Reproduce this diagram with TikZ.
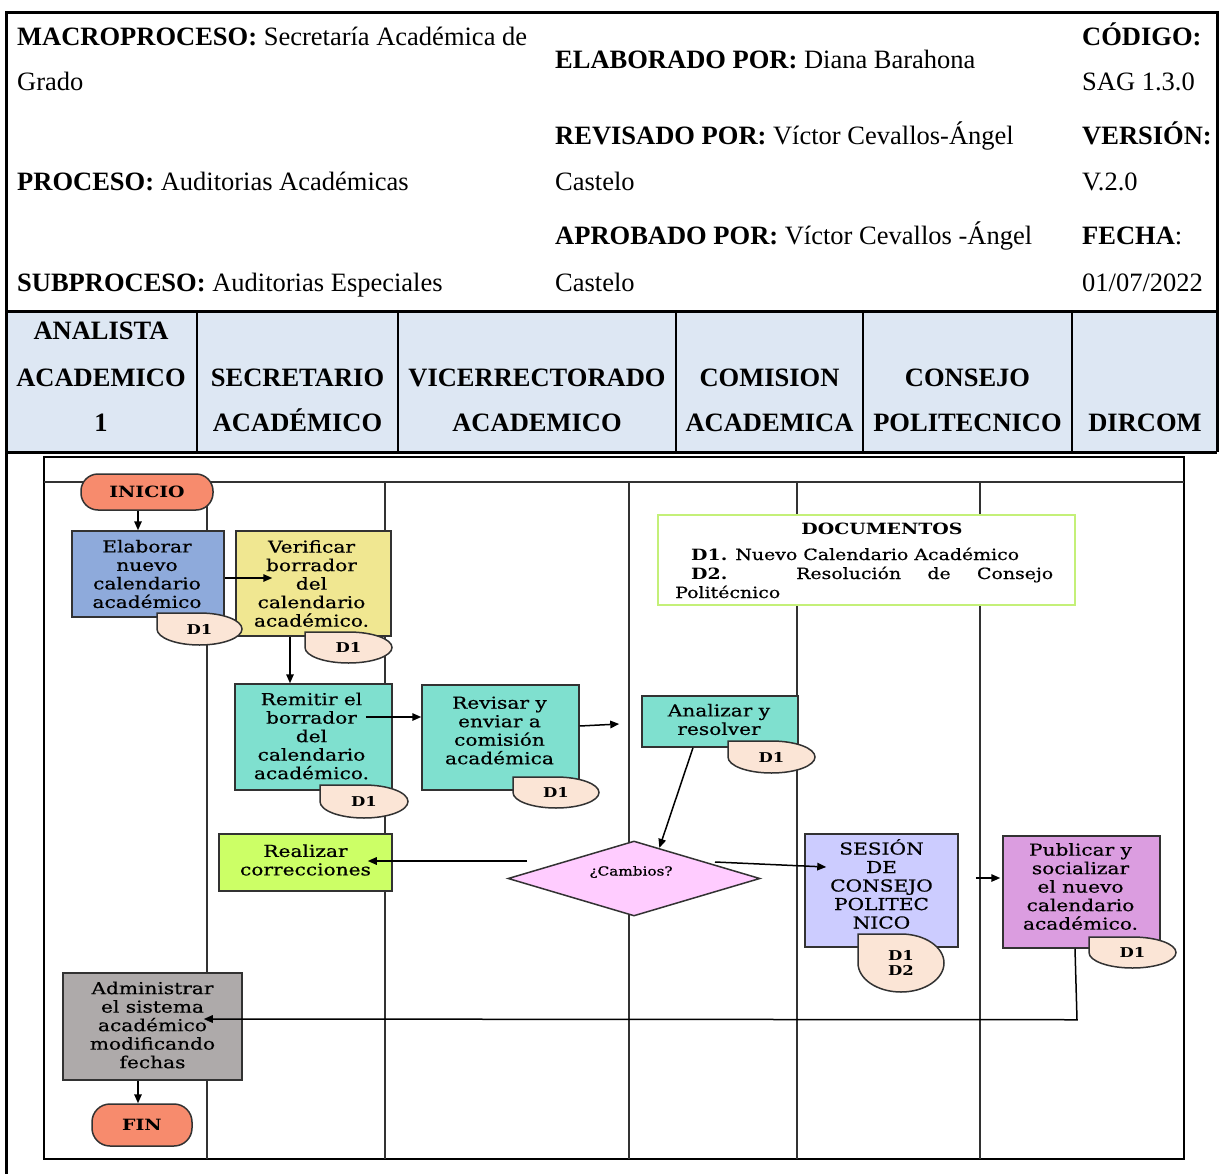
\documentclass[tikz,border=0pt]{standalone}
\usepackage{fontspec}
\setmainfont{Liberation Serif}
\newfontfamily\flowfont[FakeStretch=1.22,FakeBold=0.6]{DejaVu Serif}
\newfontfamily\flowbold[FakeStretch=1.22]{DejaVu Serif Bold}
\usetikzlibrary{shapes.geometric,arrows.meta,calc}

\definecolor{laneblue}{RGB}{221,231,243}
\definecolor{coral}{RGB}{247,139,109}
\definecolor{boxblue}{RGB}{142,170,219}
\definecolor{boxyellow}{RGB}{240,231,145}
\definecolor{boxteal}{RGB}{127,224,207}
\definecolor{boxlime}{RGB}{204,255,102}
\definecolor{boxpink}{RGB}{255,204,255}
\definecolor{boxlilac}{RGB}{204,204,255}
\definecolor{boxorchid}{RGB}{219,157,224}
\definecolor{boxgray}{RGB}{174,170,170}
\definecolor{tagfill}{RGB}{251,229,214}
\definecolor{docgreen}{RGB}{196,240,120}
\definecolor{edge}{RGB}{50,50,50}

% document tag: rounded shape with a square top-left corner
% #1 name, #2 x0, #3 y0, #4 x1, #5 y1, #6 text
\newcommand\doctag[6]{%
  \pgfmathsetmacro\tgcx{(#2+#4)/2}%
  \pgfmathsetmacro\tgcy{(#3+#5)/2}%
  \pgfmathsetmacro\tgkx{(#4-#2)/2*0.5523}%
  \pgfmathsetmacro\tgky{(#5-#3)/2*0.5523}%
  \draw[tagshape] (#2,#3) -- (\tgcx,#3)
     .. controls ({\tgcx+\tgkx},#3) and (#4,{\tgcy-\tgky}) .. (#4,\tgcy)
     .. controls (#4,{\tgcy+\tgky}) and ({\tgcx+\tgkx},#5) .. (\tgcx,#5)
     .. controls ({\tgcx-\tgkx},#5) and (#2,{\tgcy+\tgky}) .. (#2,\tgcy) -- cycle;
  \node[tagtext] (#1) at (\tgcx,\tgcy) {#6};
}

\begin{document}
\begin{tikzpicture}[x=1pt,y=-1pt,
  hdr/.style={anchor=base west,inner sep=0pt,font=\fontsize{26.5}{30}\selectfont},
  lane/.style={anchor=base,inner sep=0pt,font=\fontsize{26.5}{30}\selectfont\bfseries},
  procbox/.style={draw=edge,line width=1.5pt,inner sep=0pt},
  proctext/.style={inner sep=0pt,align=center,
    font=\flowfont\fontsize{16.5}{18.5}\selectfont},
  term/.style={procbox,rounded corners=17pt,fill=coral,align=center,
    font=\flowbold\fontsize{15.5}{18}\selectfont},
  tagshape/.style={draw=edge,line width=1.5pt,fill=tagfill},
  tagtext/.style={inner sep=0pt,align=center,
    font=\flowbold\fontsize{13.5}{14.5}\selectfont},
  doctxt/.style={inner sep=0pt,font=\flowfont\fontsize{15.5}{19}\selectfont},
  flow/.style={draw=black,line width=1.5pt,-{Triangle[length=9pt,width=7.5pt]}},
  lanesep/.style={draw=edge,line width=1.5pt},
  ]
\useasboundingbox (0,0) rectangle (1220,1174);
\fill[white] (0,0) rectangle (1220,1174);

% ---------- header table ----------
\fill[laneblue] (6,311) rectangle (1217,452);
\foreach \x in {197,398,676,863,1072}
  \draw[line width=1.5pt] (\x,311) -- (\x,452);
\draw[line width=3pt] (6,1180) -- (6,13) -- (1217,13) -- (1217,452);
\draw[line width=3pt] (6,311) -- (1217,311);
\draw[line width=3pt] (6,452) -- (1217,452);

\node[hdr] (hmacro)  at (17,46)  {\textbf{MACROPROCESO:} Secretaría Académica de};
\node[hdr] (hmacrob) at (17,91)  {Grado};
\node[hdr] (hproc)   at (17,191) {\textbf{PROCESO:} Auditorias Académicas};
\node[hdr] (hsub)    at (17,291) {\textbf{SUBPROCESO:} Auditorias Especiales};
\node[hdr] (helab)   at (555,69)  {\textbf{ELABORADO POR:} Diana Barahona};
\node[hdr] (hrev)    at (555,145) {\textbf{REVISADO POR:} Víctor Cevallos-Ángel};
\node[hdr] (hrevb)   at (555,191) {Castelo};
\node[hdr] (hapr)    at (555,245) {\textbf{APROBADO POR:} Víctor Cevallos -Ángel};
\node[hdr] (haprb)   at (555,291) {Castelo};
\node[hdr] (hcod)    at (1082,46)  {\textbf{CÓDIGO:}};
\node[hdr] (hcodb)   at (1082,91)  {SAG 1.3.0};
\node[hdr] (hver)    at (1082,145) {\textbf{VERSIÓN:}};
\node[hdr] (hverb)   at (1082,191) {V.2.0};
\node[hdr] (hfec)    at (1082,245) {\textbf{FECHA}:};
\node[hdr] (hfecb)   at (1082,291) {01/07/2022};

% lane titles
\node[lane] (l1a) at (101,339) {ANALISTA};
\node[lane] (l1b) at (101,386) {ACADEMICO};
\node[lane] (l1c) at (101,431) {1};
\node[lane] (l2a) at (297.5,386) {SECRETARIO};
\node[lane] (l2b) at (297.5,431) {ACADÉMICO};
\node[lane] (l3a) at (537,386) {VICERRECTORADO};
\node[lane] (l3b) at (537,431) {ACADEMICO};
\node[lane] (l4a) at (769.5,386) {COMISION};
\node[lane] (l4b) at (769.5,431) {ACADEMICA};
\node[lane] (l5a) at (967.5,386) {CONSEJO};
\node[lane] (l5b) at (967.5,431) {POLITECNICO};
\node[lane] (l6a) at (1145,431) {DIRCOM};

% ---------- flowchart frame and lanes ----------
\draw[line width=2.2pt] (44,457) rectangle (1184,1159);
\draw[lanesep] (44,482) -- (1184,482);
\foreach \x in {207,385,629,797,980}
  \draw[lanesep] (\x,482) -- (\x,1159);

% ---------- steps ----------
\node[term, minimum width=132pt, minimum height=36pt] (ini) at (147,492) {INICIO};

\node[procbox, fill=boxblue, minimum width=152pt, minimum height=86pt] (ela) at (148,574) {};
\node[proctext] (elaT) at ([xshift=-1pt]ela.center) {Elaborar\\nuevo\\calendario\\académico};

\node[procbox, fill=boxyellow, minimum width=155pt, minimum height=105pt] (ver) at (313.5,583.5) {};
\node[proctext] (verT) at ([xshift=-2pt]ver.center) {Verificar\\borrador\\del\\calendario\\académico.};

\node[procbox, fill=boxteal, minimum width=157pt, minimum height=106pt] (rem) at (313.5,737) {};
\node[proctext] (remT) at ([xshift=-2pt,yshift=1pt]rem.center) {Remitir el\\borrador\\del\\calendario\\académico.};

\node[procbox, fill=boxteal, minimum width=157pt, minimum height=105pt] (rev) at (500.5,737.5) {};
\node[proctext] (revT) at ([xshift=-1pt,yshift=7pt]rev.center) {Revisar y\\enviar a\\comisión\\académica};

\node[procbox, fill=boxteal, minimum width=156pt, minimum height=51pt] (ana) at (720,721.5) {};
\node[proctext] (anaT) at ([xshift=-1pt,yshift=2pt]ana.center) {Analizar y\\resolver};

\node[draw=edge, line width=1.5pt, fill=boxpink, diamond, aspect=3.36, inner sep=0pt,
  minimum width=252pt, minimum height=75pt] (dec) at (634,878.5) {};
\node[inner sep=0pt, font=\flowfont\fontsize{12.5}{14}\selectfont] (decT) at ([xshift=-3pt,yshift=6.5pt]dec.center) {¿Cambios?};

\node[procbox, fill=boxlime, minimum width=173pt, minimum height=57pt] (rea) at (305.5,862.5) {};
\node[proctext] (reaT) at ([yshift=2.5pt]rea.center) {Realizar\\correcciones};

\node[procbox, fill=boxlilac, minimum width=153pt, minimum height=113pt] (ses) at (881.5,890.5) {};
\node[proctext] (sesT) at ([yshift=6.5pt]ses.center) {SESIÓN\\DE\\CONSEJO\\POLITEC\\NICO};

\node[procbox, fill=boxorchid, minimum width=157pt, minimum height=112pt] (pub) at (1081.5,892) {};
\node[proctext] (pubT) at ([xshift=-1pt,yshift=5.5pt]pub.center) {Publicar y\\socializar\\el nuevo\\calendario\\académico.};

\node[procbox, fill=boxgray, minimum width=179pt, minimum height=107pt] (adm) at (152.5,1026.5) {};
\node[proctext] (admT) at ([yshift=1.5pt]adm.center) {Administrar\\el sistema\\académico\\modificando\\fechas};

\node[term, rounded corners=18pt, minimum width=100pt, minimum height=42pt] (fin) at (142,1125) {FIN};

% ---------- documents legend ----------
\node[draw=docgreen, line width=2pt, fill=white, inner sep=0pt,
  minimum width=417pt, minimum height=90pt] (docs) at (866.5,560) {};
\node[doctxt, anchor=base] (docsT) at (882,534) {\flowbold DOCUMENTOS};
\node[doctxt, anchor=base west] (docsA) at (691,560) {{\flowbold D1.} Nuevo Calendario Académico};
\node[doctxt, anchor=base west] (docsB) at (691,579)
  {\makebox[362pt][s]{{\flowbold D2.} Resolución de Consejo}};
\node[doctxt, anchor=base west] (docsC) at (675,598) {Politécnico};

% ---------- document tags ----------
\doctag{tg1}{157}{613}{242}{645}{D1}
\doctag{tg2}{305}{632}{392}{663}{D1}
\doctag{tg3}{320}{785}{408}{818}{D1}
\doctag{tg4}{513}{777}{599}{808}{D1}
\doctag{tg5}{728}{741}{815}{773}{D1}
\doctag{tg6}{858}{934}{944}{992}{D1\\D2}
\doctag{tg7}{1089}{937}{1176}{968}{D1}

% ---------- connectors ----------
\draw[flow] ([xshift=-9pt]ini.south) -- ([xshift=-10pt]ela.north);
\draw[flow] ([yshift=-4pt]ela.east) -- ([xshift=37pt,yshift=5.5pt]ver.west);
\draw[flow] ([xshift=-23.5pt]ver.south) -- ([xshift=-23.5pt]rem.north);
\draw[flow] ([xshift=-27pt,yshift=20pt]rem.east) -- ([yshift=20.5pt]rev.west);
\draw[flow] ([yshift=11.5pt]rev.east) -- ([xshift=-22pt,yshift=-2.5pt]ana.west);
\draw[flow] ([xshift=-27pt]ana.south) -- ($(dec.north)!0.2!(dec.east)$);
\draw[flow] ([xshift=-107pt,yshift=17.5pt]dec.center) -- ([xshift=-25pt,yshift=1.5pt]rea.east);
\draw[flow] ([xshift=81pt,yshift=16.5pt]dec.center) -- ([xshift=22pt,yshift=23.5pt]ses.west);
\draw[flow] ([xshift=17pt,yshift=12.5pt]ses.east) -- ([xshift=-2pt,yshift=14pt]pub.west);
\draw[flow] ([xshift=-6.5pt]pub.south) -- ++(2,71) -- ([xshift=-39pt,yshift=7.5pt]adm.east);
\draw[flow] ([xshift=-14.5pt]adm.south) -- ([xshift=-4pt]fin.north);
\end{tikzpicture}
\end{document}
